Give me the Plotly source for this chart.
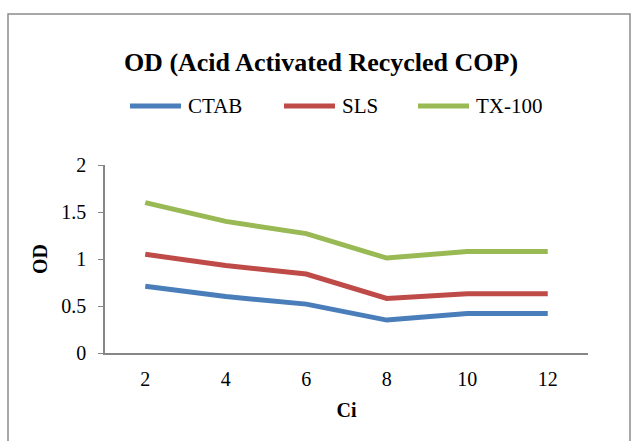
import plotly.graph_objects as go

ci = [2, 4, 6, 8, 10, 12]
ctab = [0.71, 0.60, 0.52, 0.35, 0.42, 0.42]
sls = [1.05, 0.93, 0.84, 0.58, 0.63, 0.63]
tx100 = [1.60, 1.40, 1.27, 1.01, 1.08, 1.08]
series_names = ["CTAB", "SLS", "TX-100"]
series_colors = ["#4A7EBB", "#BE4B48", "#98B954"]
y_ticks = [0, 0.5, 1, 1.5, 2]
y_ticktext = ["0", "0.5", "1", "1.5", "2"]

FONT = "Liberation Serif"

# figure geometry (pixels)
W, H = 642, 441
L, R, T, B = 105, 54, 165, 88
PW, PH = W - L - R, H - T - B


def px2x(px):
    return (px - L) / PW


def py2y(py):
    return (H - B - py) / PH


fig = go.Figure()
for name, vals, col in zip(series_names, [ctab, sls, tx100], series_colors):
    fig.add_trace(go.Scatter(x=ci, y=vals, name=name, mode="lines",
                             line=dict(color=col, width=5), showlegend=False))

# custom legend (long line samples like the original)
legend_starts = [128, 282, 416]
legend_y = 106
shapes = []
annotations = []
for name, col, x0 in zip(series_names, series_colors, legend_starts):
    shapes.append(dict(type="line", xref="paper", yref="paper",
                       x0=px2x(x0 + 2), x1=px2x(x0 + 53),
                       y0=py2y(legend_y), y1=py2y(legend_y),
                       line=dict(color=col, width=5)))
    annotations.append(dict(text=name, xref="paper", yref="paper",
                            x=px2x(x0 + 58), y=py2y(legend_y),
                            xanchor="left", yanchor="middle", showarrow=False,
                            font=dict(family=FONT, size=21, color="black")))

# chart-area border
shapes.append(dict(type="rect", xref="paper", yref="paper",
                   x0=px2x(8), x1=px2x(630),
                   y0=py2y(460), y1=py2y(14),
                   line=dict(color="#8C8C8C", width=1.5),
                   fillcolor="rgba(0,0,0,0)", layer="below"))

fig.update_layout(
    width=W, height=H,
    margin=dict(l=L, r=R, t=T, b=B),
    paper_bgcolor="white", plot_bgcolor="white",
    font=dict(family=FONT, size=20, color="black"),
    title=dict(text="<b>OD (Acid Activated Recycled COP)</b>",
               font=dict(family=FONT, size=26, color="black"),
               x=0.5, xanchor="center", xref="container",
               y=1 - 62 / H, yref="container", yanchor="middle"),
    showlegend=False,
    xaxis=dict(range=[1, 13], tickvals=ci, ticktext=[str(v) for v in ci],
               showgrid=False, zeroline=False, showline=True,
               linecolor="#868686", linewidth=1.5, ticks="",
               ticklabelstandoff=7,
               tickfont=dict(family=FONT, size=20, color="black"),
               title=dict(text="<b>Ci</b>",
                          font=dict(family=FONT, size=20, color="black"),
                          standoff=14)),
    yaxis=dict(range=[0, 2], tickvals=y_ticks, ticktext=y_ticktext,
               showgrid=False, zeroline=False, showline=True,
               linecolor="#868686", linewidth=1.5, ticks="outside",
               ticklen=5, tickcolor="#868686", ticklabelstandoff=8,
               tickfont=dict(family=FONT, size=20, color="black"),
               title=dict(text="<b>OD</b>",
                          font=dict(family=FONT, size=20, color="black"),
                          standoff=8)),
    shapes=shapes,
    annotations=annotations,
)

fig.write_html("out.html")
